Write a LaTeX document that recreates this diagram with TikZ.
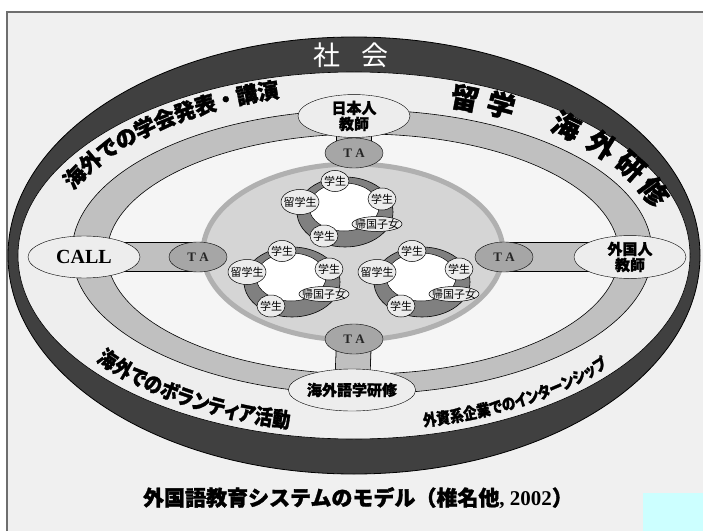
\documentclass[tikz,border=0pt]{standalone}
\usepackage{fontspec}
\setmainfont{Liberation Serif}
\newfontfamily\jpf{Noto Sans CJK JP}
\newfontfamily\jph{Noto Sans CJK JP}[BoldFeatures={FakeBold=1.5}]
\newfontfamily\jpc{Noto Sans CJK JP}[FakeStretch=0.85, RawFeature=+palt, BoldFeatures={FakeBold=1.5}]
\usetikzlibrary{shapes.geometric,decorations.text}
\definecolor{bgc}{HTML}{F0F0F0}
\definecolor{framec}{HTML}{6E6E6E}
\definecolor{darkband}{HTML}{404040}
\definecolor{lightband}{HTML}{EEEEEE}
\definecolor{grayband}{HTML}{C0C0C0}
\definecolor{innerreg}{HTML}{F5F5F5}
\definecolor{bigfill}{HTML}{D5D5D5}
\definecolor{bigedge}{HTML}{B0B0B0}
\definecolor{tafill}{HTML}{A6A6A6}
\definecolor{namefill}{HTML}{EDEDED}
\definecolor{ringc}{HTML}{808080}
\definecolor{stufill}{HTML}{ECECEC}
\definecolor{cyanbox}{HTML}{CCFFFF}
\pgfdeclarelayer{back}
\pgfdeclarelayer{mid}
\pgfsetlayers{back,mid,main}
\begin{document}
\begin{tikzpicture}[x=1pt,y=1pt,
  ta/.style={ellipse, draw=black, fill=tafill, minimum width=58pt, minimum height=30pt, inner sep=0pt, text=black!85, font=\bfseries\fontsize{13}{13}\selectfont},
  nm/.style={ellipse, draw=black, fill=namefill, minimum width=112pt, minimum height=42pt, inner sep=0pt, align=center, font=\jph\bfseries\fontsize{15}{16}\selectfont},
  stu/.style={ellipse, draw=black, line width=0.5pt, fill=stufill, inner sep=0pt, minimum width=28pt, minimum height=21pt, font=\jpf\fontsize{11}{11}\selectfont},
  bigch/.style={font=\jph\bfseries\fontsize{28}{28}\selectfont, inner sep=0pt},
  vbar/.style={line width=0.8pt, double=grayband, double distance=34pt},
  hbar/.style={line width=0.8pt, double=grayband, double distance=28pt},
]
\useasboundingbox (0,0) rectangle (703,531);

\begin{pgfonlayer}{back}
\fill[white] (0,0) rectangle (703,531);
\fill[bgc] (7,0) rectangle (703,519);
\draw[framec, line width=1.2pt] (7,0) -- (7,519) -- (703,519);
\fill[cyanbox] (643,0) rectangle (703,38);
% bands
\draw[fill=darkband, line width=0.8pt] (354,275.5) ellipse[x radius=346, y radius=218.5];
\draw[fill=lightband, line width=0.6pt] (354,275.5) ellipse[x radius=336, y radius=183.5];
\draw[fill=grayband, line width=0.6pt] (362,279) ellipse[x radius=290, y radius=142];
\draw[fill=innerreg, line width=0.6pt] (363,277) ellipse[x radius=256, y radius=120];
\end{pgfonlayer}

% inner big ellipse
\draw[draw=bigedge, line width=5pt, fill=bigfill] (353,279) ellipse[x radius=150, y radius=88];

% student groups
\foreach \g/\cx/\cy in {1/345/321, 2/292/251, 3/422/251}{
  \draw[fill=ringc, line width=0.6pt] (\cx,\cy-2) ellipse[x radius=48, y radius=35];
  \draw[fill=white, line width=0.5pt] (\cx-1,\cy+3) ellipse[x radius=35, y radius=24];
  \node[stu] (g\g a) at (\cx-10,\cy+29) {\makebox[0pt]{学生}};
  \node[stu, minimum width=38pt, minimum height=25pt] (g\g b) at (\cx-45,\cy+8) {\makebox[0pt]{留学生}};
  \node[stu, minimum height=22pt] (g\g c) at (\cx+37,\cy+11) {\makebox[0pt]{学生}};
  \node[stu, minimum width=50pt, minimum height=15pt] (g\g d) at (\cx+32,\cy-14) {\makebox[0pt]{帰国子女}};
  \node[stu, minimum height=22pt] (g\g e) at (\cx-21,\cy-26) {\makebox[0pt]{学生}};
}

% main nodes
\node[nm] (jt) at (354,415) {日本人\\教師};
\node[ta] (tat) at (354,378) {T A};
\node[nm, font=\bfseries\fontsize{20}{20}\selectfont] (ca) at (84,274) {CALL};
\node[ta] (tal) at (198,274) {T A};
\node[ta] (tar) at (504,274) {T A};
\node[nm] (gt) at (630,274) {外国人\\教師};
\node[ta] (tab) at (354,192) {T A};
\node[nm] (kg) at (352,141) {海外語学研修};

\begin{pgfonlayer}{mid}
\draw[vbar] (jt.center) -- (tat.center);
\draw[vbar] (tab.center) -- (kg.center);
\draw[hbar] (ca.center) -- (tal.center);
\draw[hbar] (tar.center) -- (gt.center);
\end{pgfonlayer}

% band texts
\node[text=white, font=\jpf\fontsize{27}{27}\selectfont] (soc) at (351,476) {社\hspace{22pt}会};

\path[decorate, decoration={text along path, raise=-8pt,
  text={|\jph\bfseries\fontsize{21.5}{21.5}\selectfont|海外での学会発表・講演}}]
  (358,277) ++(156:318 and 170) arc[start angle=156, end angle=88, x radius=318, y radius=170];

\node[bigch, rotate=-11] (ry1) at (465,433) {留};
\node[bigch, rotate=-15] (ry2) at (501,426) {学};

\node[bigch, rotate=-25] (kk1) at (566.6,405.3) {海};
\node[bigch, rotate=-32.5] (kk2) at (601.6,386.3) {外};
\node[bigch, rotate=-41.7] (kk3) at (630.6,364.6) {研};
\node[bigch, rotate=-53.6] (kk4) at (653.9,339.3) {修};

\path[decorate, decoration={text along path, raise=-8pt,
  text={|\jpc\bfseries\fontsize{21}{21}\selectfont|海外でのボランティア活動}}]
  (358,277) ++(216:318 and 170) arc[start angle=216, end angle=272, x radius=318, y radius=170];

\path[decorate, decoration={text along path, raise=-6pt,
  text={|\jpc\bfseries\fontsize{16}{16}\selectfont|外資系企業でのインターンシップ}}]
  (358,277) ++(281.8:318 and 170) arc[start angle=281.8, end angle=336, x radius=318, y radius=170];

% caption
\node[font=\jph\bfseries\fontsize{21}{21}\selectfont] (cap) at (358,33) {外国語教育システムのモデル（椎名他{\rmfamily\bfseries, 2002}）};
\end{tikzpicture}
\end{document}
